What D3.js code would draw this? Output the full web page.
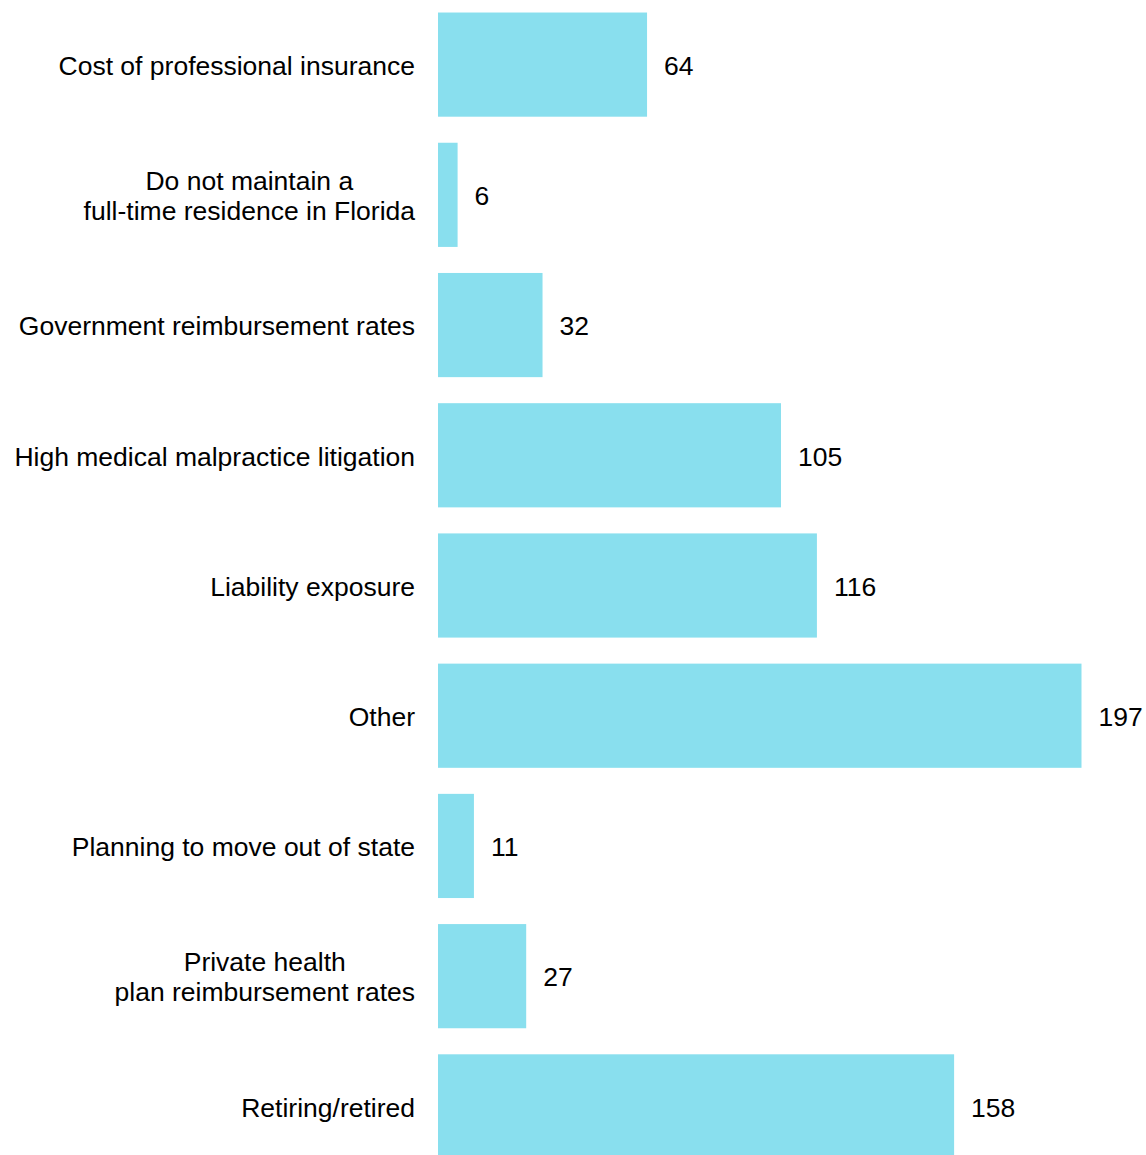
<!DOCTYPE html>
<html>
<head>
<meta charset="utf-8">
<script src="https://cdn.jsdelivr.net/npm/d3@7"></script>
<style>
  html, body { margin: 0; padding: 0; background: #fff; }
  svg { display: block; }
  text { font-family: "Liberation Sans", Arial, sans-serif; fill: #000; }
</style>
</head>
<body>
<svg id="chart" width="1146" height="1155"></svg>
<script>
const categories = [
  "Cost of professional insurance",
  "Do not maintain a\nfull-time residence in Florida",
  "Government reimbursement rates",
  "High medical malpractice litigation",
  "Liability exposure",
  "Other",
  "Planning to move out of state",
  "Private health\nplan reimbursement rates",
  "Retiring/retired"
];
const values = [64, 6, 32, 105, 116, 197, 11, 27, 158];

const svg = d3.select("#chart");
const left = 438;
const labelRight = 415;
const fs = "26.5px";
const x = d3.scaleLinear().domain([0, 197]).range([left, 1081.5]);
const y = d3.scaleBand().domain(categories).range([-0.5, 1171.5]).paddingInner(0.2).paddingOuter(0.1);

const data = categories.map((c, i) => ({ c, v: values[i] }));

svg.selectAll("rect.bar").data(data).enter().append("rect")
  .attr("class", "bar")
  .attr("x", x(0))
  .attr("y", d => y(d.c))
  .attr("width", d => x(d.v) - x(0))
  .attr("height", y.bandwidth())
  .attr("fill", "#89dfee");

svg.selectAll("text.val").data(data).enter().append("text")
  .attr("class", "val")
  .attr("x", d => x(d.v) + 17)
  .attr("y", d => y(d.c) + y.bandwidth() / 2 + 1)
  .attr("dy", "0.35em")
  .style("font-size", fs)
  .text(d => d.v);

const lab = svg.selectAll("text.cat").data(data).enter().append("text")
  .attr("class", "cat")
  .style("font-size", fs);

lab.each(function(d) {
  const lines = d.c.split("\n");
  const t = d3.select(this);
  const lh = 30;
  const cy = y(d.c) + y.bandwidth() / 2 + 1;
  if (lines.length === 1) {
    t.attr("text-anchor", "end").attr("x", labelRight).attr("y", cy).attr("dy", "0.35em").text(lines[0]);
    return;
  }
  const spans = lines.map((ln, i) => t.append("tspan")
    .attr("y", cy + (i - (lines.length - 1) / 2) * lh)
    .attr("dy", "0.35em")
    .text(ln));
  const maxW = d3.max(spans, s => s.node().getComputedTextLength());
  const cx = labelRight - maxW / 2;
  spans.forEach(s => s.attr("x", cx).attr("text-anchor", "middle"));
});
</script>
</body>
</html>
